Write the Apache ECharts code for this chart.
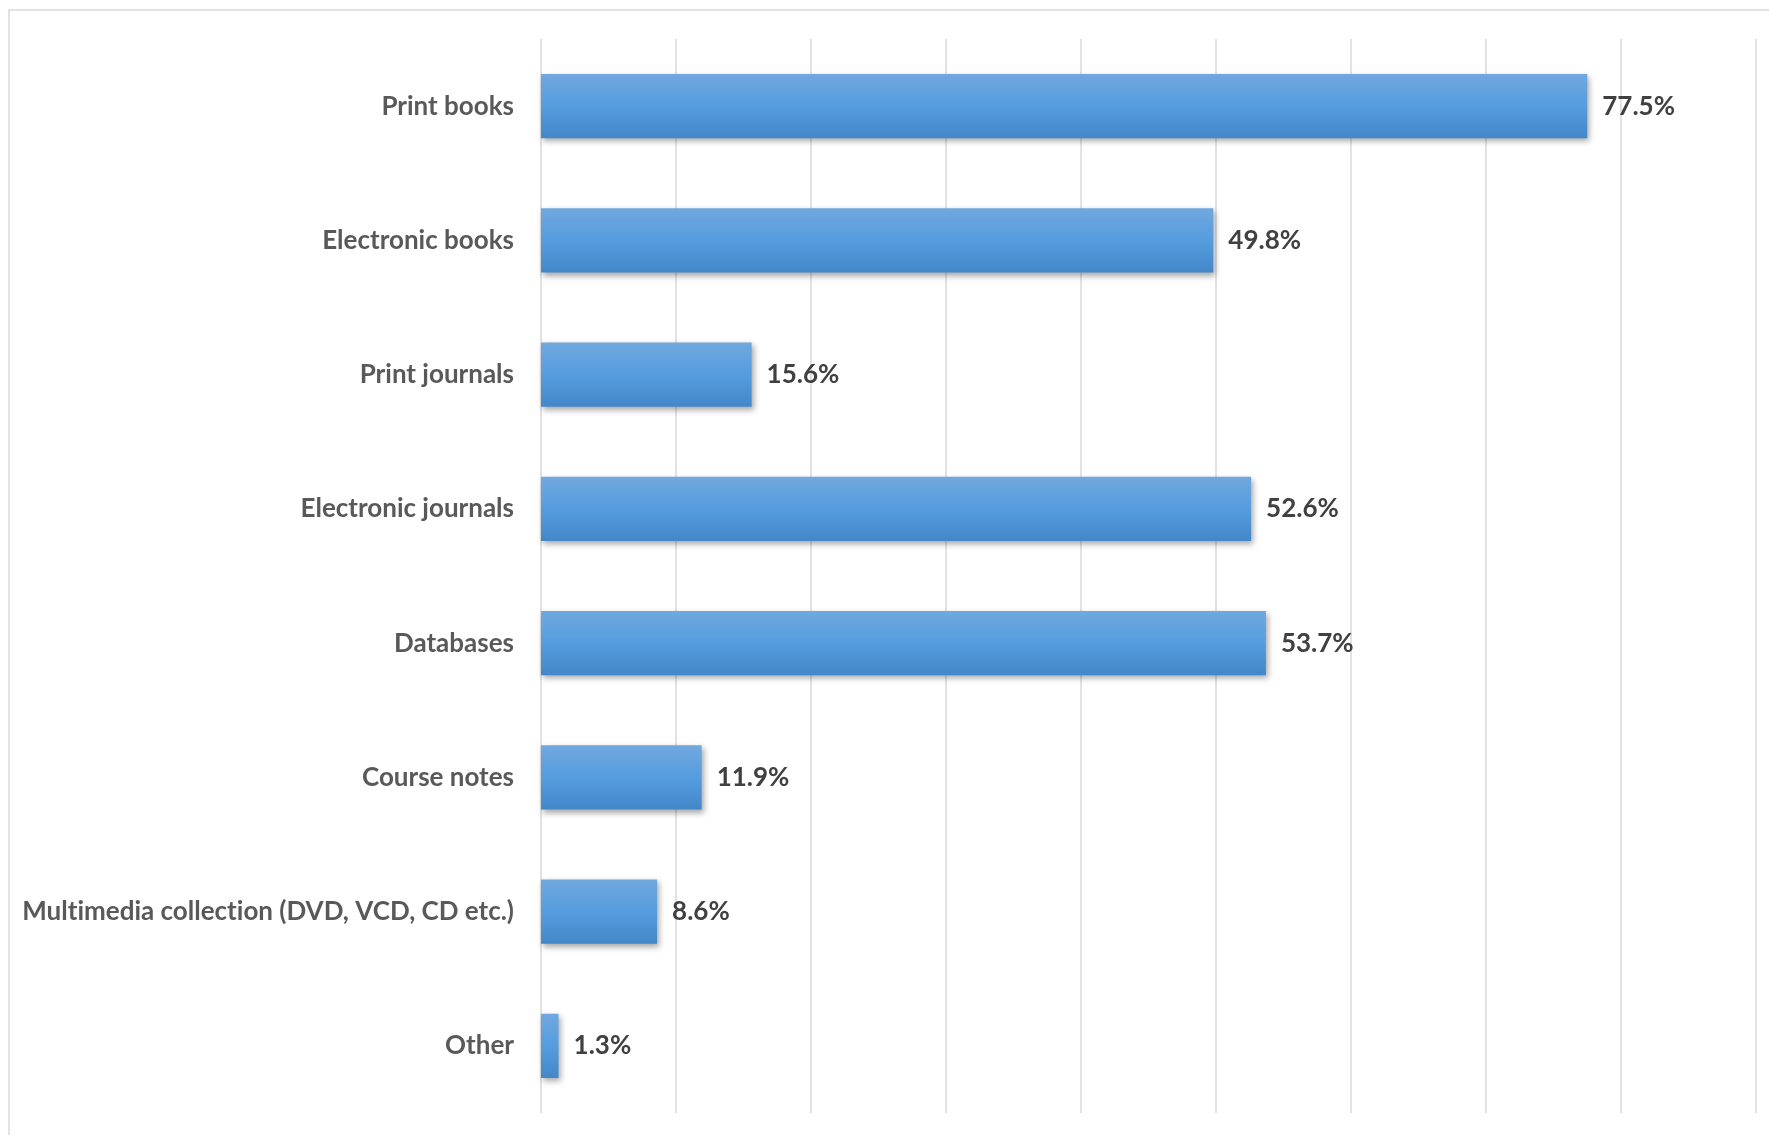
<!DOCTYPE html>
<html>
<head>
<meta charset="utf-8">
<script src="https://cdn.jsdelivr.net/npm/echarts@6/dist/echarts.min.js"></script>
<style>
  html, body { margin: 0; padding: 0; background: #ffffff; }
  #chart { width: 1769px; height: 1135px; }
</style>
</head>
<body>
<div id="chart"></div>
<script>
// Library collection types, share of respondents (%)
const categories = [
  'Print books',
  'Electronic books',
  'Print journals',
  'Electronic journals',
  'Databases',
  'Course notes',
  'Multimedia collection (DVD, VCD, CD etc.)',
  'Other'
];
const shares = [77.5, 49.8, 15.6, 52.6, 53.7, 11.9, 8.6, 1.3];
const axisMax = 90;
const axisStep = 10;

const chart = echarts.init(document.getElementById('chart'), null, { renderer: 'canvas' });

const fontFamily = 'Lato, "Open Sans", sans-serif';

chart.setOption({
  animation: false,
  backgroundColor: '#ffffff',
  graphic: [{
    type: 'rect',
    silent: true,
    shape: { x: 9, y: 10, width: 1800, height: 1200 },
    style: { fill: 'none', stroke: '#d9d9d9', lineWidth: 1.5 }
  }],
  grid: { left: 541, right: 13, top: 39, bottom: 22, containLabel: false },
  xAxis: {
    type: 'value',
    min: 0,
    max: axisMax,
    interval: axisStep,
    axisLabel: { show: false },
    axisLine: { show: false },
    axisTick: { show: false },
    splitLine: { show: true, lineStyle: { color: '#d9d9d9', width: 1.5 } }
  },
  yAxis: {
    type: 'category',
    inverse: true,
    data: categories,
    axisLine: { show: false },
    axisTick: { show: false },
    axisLabel: {
      margin: 27,
      color: '#595959',
      fontFamily: fontFamily,
      fontWeight: 'bold',
      fontSize: 26,
      padding: [3, 0, 0, 0],
      // keep "t" and "i" as separate glyphs (no ligature)
      formatter: v => v.replace(/ti/g, 't\u200Ci')
    }
  },
  series: [{
    type: 'bar',
    data: shares,
    barCategoryGap: '52%',
    itemStyle: {
      color: new echarts.graphic.LinearGradient(0, 0, 0, 1, [
        { offset: 0, color: '#71a8de' },
        { offset: 0.5, color: '#559ddf' },
        { offset: 1, color: '#4387c8' }
      ]),
      shadowColor: 'rgba(0,0,0,0.35)',
      shadowBlur: 6,
      shadowOffsetX: 2,
      shadowOffsetY: 3
    },
    label: {
      show: true,
      position: 'right',
      distance: 15,
      formatter: p => p.value.toFixed(1) + '%',
      color: '#404040',
      fontFamily: fontFamily,
      fontWeight: 'bold',
      fontSize: 26,
      padding: [3, 0, 0, 0]
    }
  }]
});
</script>
</body>
</html>
